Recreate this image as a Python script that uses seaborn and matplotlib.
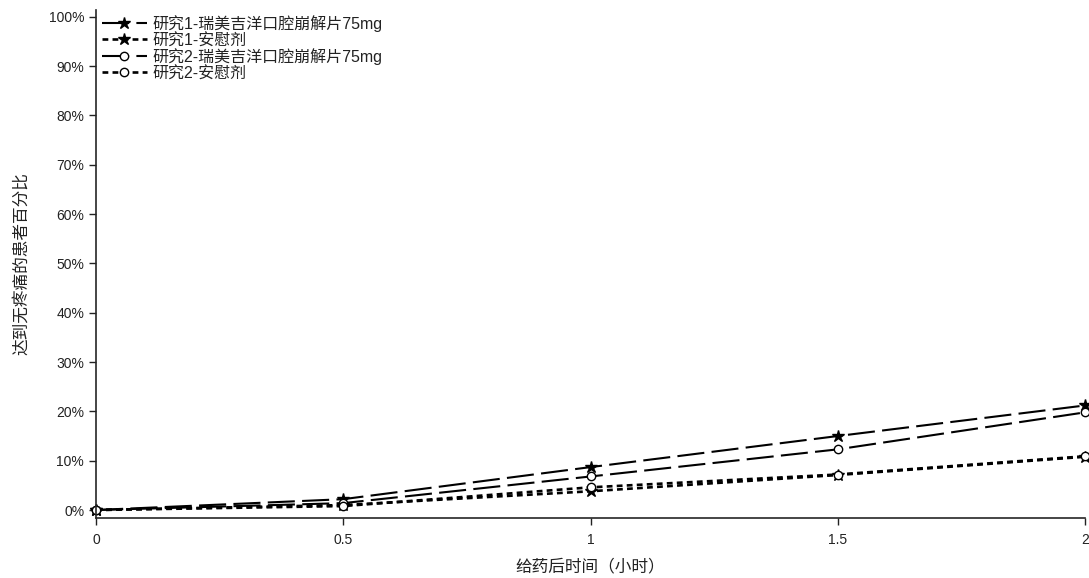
import matplotlib
matplotlib.use("Agg")
import matplotlib.pyplot as plt
import seaborn as sns
import pandas as pd

# data
hours = [0, 0.5, 1, 1.5, 2]
study1_drug = [0, 2.2, 8.7, 15.0, 21.2]
study1_placebo = [0, 1.0, 3.8, 7.1, 10.8]
study2_drug = [0, 1.4, 6.8, 12.3, 19.8]
study2_placebo = [0, 0.8, 4.6, 7.2, 10.9]
series_names = [
    "研究1-瑞美吉洋口腔崩解片75mg",
    "研究1-安慰剂",
    "研究2-瑞美吉洋口腔崩解片75mg",
    "研究2-安慰剂",
]
y_ticks = list(range(0, 101, 10))
x_ticks = [0, 0.5, 1, 1.5, 2]
x_tick_labels = ["0", "0.5", "1", "1.5", "2"]

sns.set_style("ticks")
plt.rcParams["font.family"] = ["Liberation Sans", "Noto Sans CJK SC", "DejaVu Sans"]
plt.rcParams["text.color"] = "#222222"
plt.rcParams["axes.labelcolor"] = "#222222"
plt.rcParams["xtick.color"] = "#222222"
plt.rcParams["ytick.color"] = "#222222"

fig = plt.figure(figsize=(10.89, 5.78), dpi=100)
ax = fig.add_axes([0.0882, 0.1038, 0.9081, 0.879])

values = [study1_drug, study1_placebo, study2_drug, study2_placebo]
long_dash = (0, (13, 3.5))
short_dash = (0, (2.2, 1.6))
styles = [
    dict(marker="*", markersize=9, markerfacecolor="black", linestyle=long_dash, linewidth=1.5),
    dict(marker="*", markersize=9, markerfacecolor="black", linestyle=short_dash, linewidth=1.9),
    dict(marker="o", markersize=6, markerfacecolor="white", linestyle=long_dash, linewidth=1.5),
    dict(marker="o", markersize=6, markerfacecolor="white", linestyle=short_dash, linewidth=1.9),
]

for name, vals, st in zip(series_names, values, styles):
    df = pd.DataFrame({"time": hours, "pct": vals})
    sns.lineplot(
        data=df, x="time", y="pct", ax=ax, color="black",
        markeredgecolor="black", markeredgewidth=1.0, label=name,
        clip_on=False, **st,
    )

ax.set_xlim(0, 2)
ax.set_ylim(-1.62, 101.4)
ax.set_yticks(y_ticks)
ax.set_yticklabels([f"{t}%" for t in y_ticks])
ax.set_xticks(x_ticks)
ax.set_xticklabels(x_tick_labels)
ax.tick_params(labelsize=10, length=5, width=1)
ax.tick_params(axis="x", pad=6)
ax.set_xlabel("给药后时间（小时）", fontsize=12, labelpad=8)
ax.set_ylabel("达到无疼痛的患者百分比", fontsize=12, labelpad=14)
sns.despine(ax=ax)
for sp in ["left", "bottom"]:
    ax.spines[sp].set_linewidth(1.2)

# taller handle box keeps the legend rows evenly spaced
leg = ax.legend(
    loc="upper left", bbox_to_anchor=(0.0, 1.0), frameon=False, fontsize=11.5,
    handlelength=2.85, handleheight=1.1, handletextpad=0.35, labelspacing=0.0,
    borderaxespad=0.2, borderpad=0.15,
)

fig.savefig("out.png", dpi=100)
